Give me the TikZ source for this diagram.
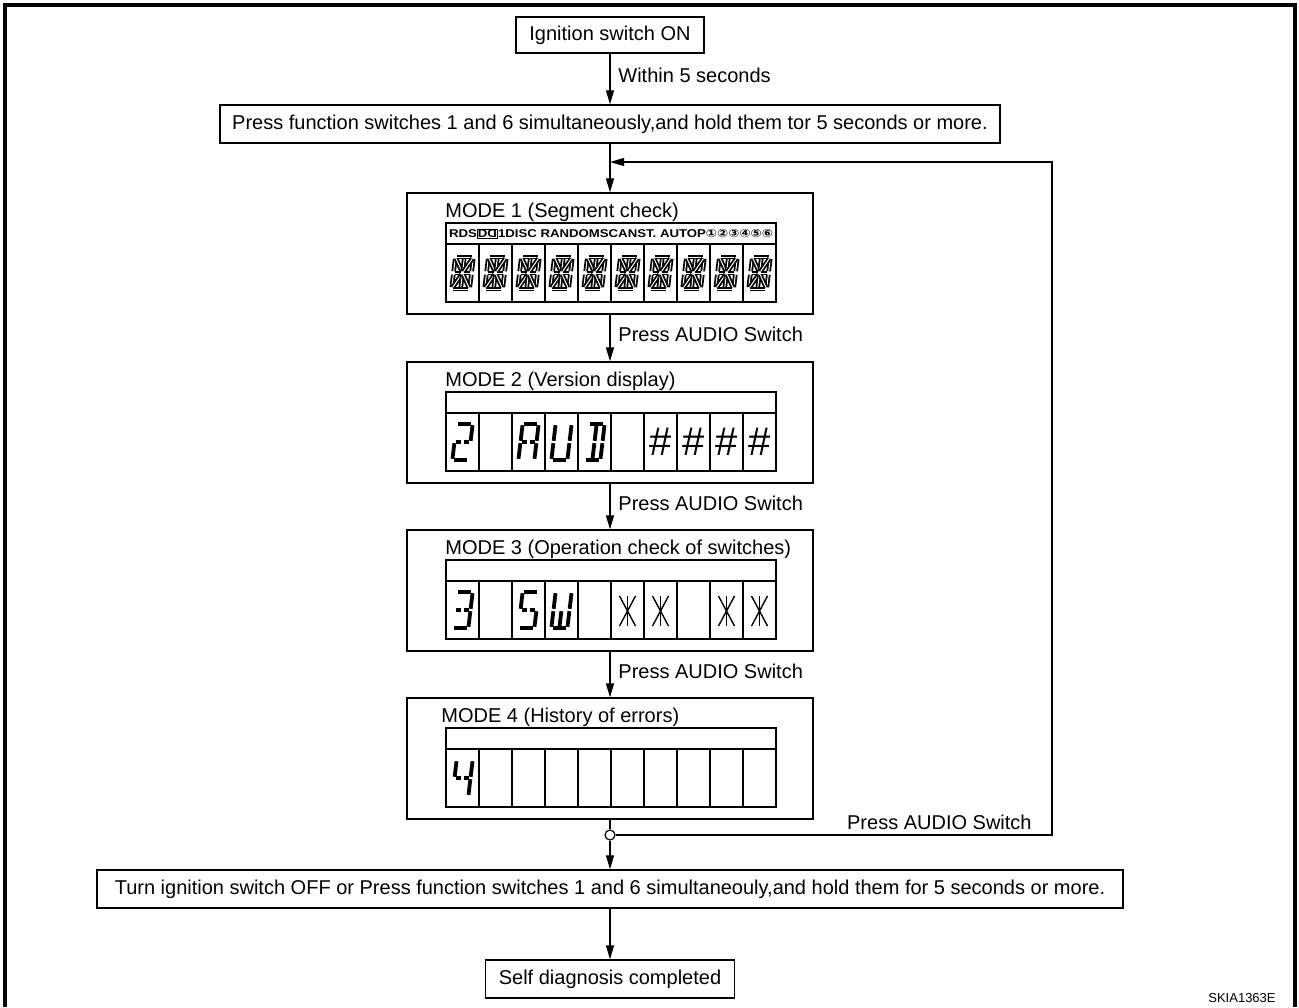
\documentclass[tikz,border=0pt]{standalone}
\usepackage{fontspec}
\setmainfont{Liberation Sans}
\newfontfamily\symfont{DejaVu Sans}
\usepackage{graphicx}
\usetikzlibrary{arrows.meta, positioning, calc}

% segment lists for the 14-segment cells
\def\glyphall{tl/tr,tr/mr,mr/br,bl/br,ml/bl,tl/ml,ml/mc,mc/mr,tl/mc,tc/mc,tr/mc,bl/mc,mc/bc,br/mc}
\def\glyphtwo{tl/tr,tr/mr,ml/mc,mc/mr,ml/bl,bl/br}
\def\glyphA{tl/tr,tl/ml,tr/mr,ml/bl,mr/br,ml/mc,mc/mr}
\def\glyphU{tl/ml,ml/bl,tr/mr,mr/br,bl/br}
\def\glyphD{tl/tr,tr/mr,mr/br,bl/br,tc/mc,mc/bc}
\def\glyphthree{tl/tr,tr/mr,mr/br,bl/br,ml/mc,mc/mr}
\def\glyphS{tl/tr,tl/ml,ml/mc,mc/mr,mr/br,bl/br}
\def\glyphW{tl/ml,ml/bl,tr/mr,mr/br,mc/bc,bl/br}
\def\glyphfour{tl/ml,ml/mc,mc/mr,tr/mr,mr/br}
\def\glyphstar{tc/mc,mc/bc,tl/mc,tr/mc,bl/mc,br/mc}

% \lcdcell[scope options]{style}{centre}{glyph}{half width}{half height}
\newcommand{\lcdcell}[6][xslant=0.12]{%
  \begin{scope}[shift={#3}, #1]
    \coordinate (tl) at (-#5,-#6); \coordinate (tc) at (0,-#6); \coordinate (tr) at (#5,-#6);
    \coordinate (ml) at (-#5,0);   \coordinate (mc) at (0,0);   \coordinate (mr) at (#5,0);
    \coordinate (bl) at (-#5,#6);  \coordinate (bc) at (0,#6);  \coordinate (br) at (#5,#6);
    \foreach \p/\q in #4 {\draw[#2] (\p) -- (\q);}
  \end{scope}}

% \lcdframe{top of mode box}
\newcommand{\lcdframe}[1]{%
  \draw[thin box] (446,#1+30) rectangle (776,#1+109);
  \draw[thin box] (446,#1+51) -- (776,#1+51);
  \foreach \i in {1,...,9} \draw[thin box] (446+33*\i,#1+51) -- (446+33*\i,#1+109);}

\newcommand{\ddlogo}{{\setlength{\fboxsep}{0.3pt}\setlength{\fboxrule}{0.5pt}\fbox{D\reflectbox{D}}}}

\begin{document}
\begin{tikzpicture}[
    x=0.5pt, y=-0.5pt,
    font=\fontsize{10}{12}\selectfont,
    box/.style={rectangle, draw, line width=0.7pt, align=center, inner sep=0pt},
    modebox/.style={rectangle, draw, line width=0.7pt, minimum width=203pt, minimum height=60.5pt, inner sep=0pt},
    thin box/.style={line width=0.6pt},
    arrow/.style={line width=0.6pt, -{Triangle[length=7pt, width=4pt]}},
    line/.style={line width=0.6pt},
    lbl/.style={anchor=west, inner sep=0pt},
    segfull/.style={line width=0.9pt, double=white, double distance=0.5pt, shorten <=0.9pt, shorten >=0.9pt},
    seg/.style={line width=1.9pt, shorten <=0.6pt, shorten >=0.6pt},
    segthin/.style={line width=0.7pt}
]
\useasboundingbox (0,0) rectangle (1299,1007);

% Frame
\draw[line width=2pt] (5,1007) -- (5,5) -- (1295,5) -- (1295,1007);

% Start
\node (ign) [box, minimum width=94pt, minimum height=18pt] at (610,35) {Ignition switch ON};
\node (press) [box, minimum width=390pt, minimum height=19pt] at (610,124) {Press function switches 1 and 6 simultaneously,and hold them tor 5 seconds or more.};
\node (within) [lbl] at (618,75) {Within 5 seconds};

% Modes
\node (mode1) [modebox] at (610,253.5) {};
\node (mode2) [modebox] at (610,422.5) {};
\node (mode3) [modebox] at (610,590.5) {};
\node (mode4) [modebox] at (610,758.5) {};

\node (title1) [anchor=base west, inner sep=0pt] at (445,217) {MODE 1 (Segment check)};
\node (title2) [anchor=base west, inner sep=0pt] at (445,386) {MODE 2 (Version display)};
\node (title3) [anchor=base west, inner sep=0pt] at (445,554) {MODE 3 (Operation check of switches)};
\node (title4) [anchor=base west, inner sep=0pt] at (441,722) {MODE 4 (History of errors)};

% MODE 1 display
\lcdframe{193}
\node (flags) [inner sep=0pt] at (611,233.5) {\resizebox*{162pt}{4.8pt}{\bfseries RDS\ddlogo 1DISC RANDOMSCANST. AUTOP{\symfont ①②③④⑤⑥}}};
\foreach \i in {0,...,9} \lcdcell{segfull}{(462.5+33*\i,273)}{\glyphall}{9}{16};

% MODE 2 display
\lcdframe{362}
\lcdcell{seg}{(462.5,442)}{\glyphtwo}{8}{18}
\lcdcell{seg}{(528.5,442)}{\glyphA}{8}{18}
\lcdcell{seg}{(561.5,442)}{\glyphU}{8}{18}
\lcdcell{seg}{(594.5,442)}{\glyphD}{8}{18}
\foreach \i in {6,...,9} \node (hash\i) [inner sep=0pt, font=\fontsize{20}{20}\selectfont] at (462.5+33*\i,442) {\#};

% MODE 3 display
\lcdframe{530}
\lcdcell{seg}{(462.5,610)}{\glyphthree}{8}{18}
\lcdcell{seg}{(528.5,610)}{\glyphS}{8}{18}
\lcdcell{seg}{(561.5,610)}{\glyphW}{8}{18}
\foreach \i in {5,6,8,9} \lcdcell[]{segthin}{(462.5+33*\i,611)}{\glyphstar}{8}{15};

% MODE 4 display
\lcdframe{698}
\lcdcell{seg}{(462.5,778)}{\glyphfour}{8}{18}

% End
\node (junc) [circle, draw, line width=0.6pt, fill=white, inner sep=0pt, minimum size=5pt] at (610,835) {};
\node (turn) [box, minimum width=513pt, minimum height=19pt] at (610,889) {Turn ignition switch OFF or Press function switches 1 and 6 simultaneouly,and hold them for 5 seconds or more.};
\node (done) [box, minimum width=124.5pt, minimum height=19pt] at (610,979) {Self diagnosis completed};
\node (code) [anchor=base east, inner sep=0pt, font=\fontsize{6.5}{8}\selectfont] at (1276,1002) {SKIA1363E};

% Labels
\node (press1) [lbl] at (618,334) {Press AUDIO Switch};
\node (press2) [lbl] at (618,503) {Press AUDIO Switch};
\node (press3) [lbl] at (618,671) {Press AUDIO Switch};
\node (press4) [anchor=base east, inner sep=0pt] at (1032,829) {Press AUDIO Switch};

% Connections
\coordinate (loopin) at (610,162);
\coordinate (loopcorner) at (1052,162);
\draw [arrow] (ign) -- (press);
\draw [arrow] (press) -- (mode1);
\draw [arrow] (mode1) -- (mode2);
\draw [arrow] (mode2) -- (mode3);
\draw [arrow] (mode3) -- (mode4);
\draw [line] (mode4) -- (junc);
\draw [arrow] (junc) -| (loopcorner) -- (loopin);
\draw [arrow] (junc) -- (turn);
\draw [arrow] (turn) -- (done);

\end{tikzpicture}
\end{document}
